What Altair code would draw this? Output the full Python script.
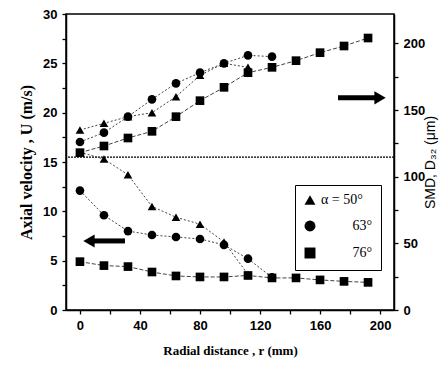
import altair as alt
import pandas as pd

# ---- data ----
r_tri_smd = [0, 16, 32, 48, 64, 80, 96, 112]
smd_tri = [135, 140, 145, 148, 160, 176, 185, 182]
r_cir_smd = [0, 16, 32, 48, 64, 80, 96, 112, 128]
smd_cir = [126, 133, 145, 158, 170, 178, 185, 191, 190]
r_sq_smd = [0, 16, 32, 48, 64, 80, 96, 112, 128, 144, 160, 176, 192]
smd_sq = [118, 123, 129, 134, 145, 157, 167, 178, 182, 187, 193, 198, 204]

r_tri_u = [0, 16, 32, 48, 64, 80, 96, 112]
u_tri = [16.0, 15.3, 13.7, 10.5, 9.4, 8.7, 6.9, 3.6]
r_cir_u = [0, 16, 32, 48, 64, 80, 96, 112, 128]
u_cir = [12.1, 9.6, 8.0, 7.6, 7.4, 7.2, 6.6, 5.2, 3.3]
r_sq_u = [0, 16, 32, 48, 64, 80, 96, 112, 128, 144, 160, 176, 192]
u_sq = [4.9, 4.5, 4.4, 3.85, 3.45, 3.35, 3.35, 3.5, 3.25, 3.25, 3.05, 2.9, 2.8]

series_names = ["50", "63", "76"]
shapes = ["triangle-up", "circle", "square"]
dashes = {"50": [2, 2], "63": [2, 2], "76": [4, 2]}

sep_u = [15.5]
arrow_left = {"x": [6], "x1": [9], "x2": [30], "u": [7.0]}
arrow_right = {"x": [200], "x1": [172], "x2": [197], "u": [21.5]}

def frame(rs, vs, name, col):
    return pd.DataFrame({"r": rs, col: vs, "series": name})

smd_parts = {"50": frame(r_tri_smd, smd_tri, "50", "smd"),
             "63": frame(r_cir_smd, smd_cir, "63", "smd"),
             "76": frame(r_sq_smd, smd_sq, "76", "smd")}
u_parts = {"50": frame(r_tri_u, u_tri, "50", "u"),
           "63": frame(r_cir_u, u_cir, "63", "u"),
           "76": frame(r_sq_u, u_sq, "76", "u")}
smd_df = pd.concat(smd_parts.values())
u_df = pd.concat(u_parts.values())

xdom = [-9.3, 209.3]
xscale = alt.Scale(domain=xdom, nice=False, zero=False)
x_axis = alt.Axis(title="Radial distance , r (mm)", grid=False,
                  values=list(range(0, 201, 20)),
                  labelExpr="datum.value % 40 == 0 ? datum.label : ''")
x_enc = alt.X("r:Q", scale=xscale, axis=x_axis)

shape_scale = alt.Scale(domain=series_names, range=shapes)

legend = alt.Legend(title=None, orient="none", legendX=229, legendY=171,
                    strokeColor="black", fillColor="white", padding=8,
                    symbolSize=120, symbolFillColor="black", symbolStrokeColor="black",
                    labelFont="Liberation Serif", labelFontSize=14, rowPadding=9,
                    labelExpr="datum.label == '50' ? 'α = 50°' : datum.label == '63' ? '\u200b\u2003\u2003 63°' : '\u200b\u2003\u2003 76°'")

uy = alt.Scale(domain=[0, 30], nice=False)
u_axis = alt.Axis(title="Axial  velocity ,  U  (m/s)", values=[x * 2.5 for x in range(13)],
                  labelExpr="datum.value % 5 == 0 ? datum.label : ''", grid=False)
u_y = alt.Y("u:Q", scale=uy, axis=u_axis)

u_lines = [alt.Chart(u_parts[s]).mark_line(color="#444", strokeWidth=1, strokeDash=dashes[s]).encode(
    x=x_enc, y=u_y) for s in series_names]
u_pts = alt.Chart(u_df).mark_point(filled=True, color="black", size=75, opacity=1).encode(
    x=x_enc, y=u_y,
    shape=alt.Shape("series:N", scale=shape_scale, legend=legend))

sep = alt.Chart(pd.DataFrame({"u": sep_u})).mark_rule(
    color="black", strokeWidth=1.3, strokeDash=[2, 1]).encode(y=u_y)

al = pd.DataFrame(arrow_left)
ar = pd.DataFrame(arrow_right)
shaft_l = alt.Chart(al).mark_rule(color="black", strokeWidth=5).encode(
    x=alt.X("x1:Q", scale=xscale, axis=x_axis), x2="x2:Q", y=u_y)
head_l = alt.Chart(al).mark_point(shape="triangle-left", filled=True, color="black", size=170, opacity=1).encode(
    x=alt.X("x:Q", scale=xscale, axis=x_axis), y=u_y)
shaft_r = alt.Chart(ar).mark_rule(color="black", strokeWidth=5).encode(
    x=alt.X("x1:Q", scale=xscale, axis=x_axis), x2="x2:Q", y=u_y)
head_r = alt.Chart(ar).mark_point(shape="triangle-right", filled=True, color="black", size=170, opacity=1).encode(
    x=alt.X("x:Q", scale=xscale, axis=x_axis), y=u_y)

u_layer = alt.layer(sep, *u_lines, u_pts, shaft_l, head_l, shaft_r, head_r)

sy = alt.Scale(domain=[0, 222], nice=False)
s_axis = alt.Axis(title="SMD, D₃₂ (μm)", orient="right", values=[x * 25 for x in range(9)],
                  labelExpr="datum.value % 50 == 0 ? datum.label : ''", grid=False,
                  titleAngle=270, titleFont="Liberation Sans", titleFontWeight="normal",
                  titleFontSize=14, titlePadding=13, titleBaseline="bottom", titleAlign="center")
s_y = alt.Y("smd:Q", scale=sy, axis=s_axis)
s_lines = [alt.Chart(smd_parts[s]).mark_line(color="#444", strokeWidth=1, strokeDash=dashes[s]).encode(
    x=x_enc, y=s_y) for s in series_names]
s_pts = alt.Chart(smd_df).mark_point(filled=True, color="black", size=75, opacity=1).encode(
    x=x_enc, y=s_y,
    shape=alt.Shape("series:N", scale=shape_scale, legend=legend))
s_layer = alt.layer(*s_lines, s_pts)

chart = alt.layer(u_layer, s_layer).resolve_scale(y="independent").properties(
    width=328, height=296,
    autosize=alt.AutoSizeParams(type="none"),
    padding={"left": 66, "top": 14, "right": 46, "bottom": 58},
    background="white",
).configure_view(stroke="black", strokeWidth=1.5).configure_axis(
    grid=False,
    domainColor="black", domainWidth=1.5, tickColor="black", tickWidth=1.3, tickSize=4,
    labelFont="Liberation Sans", labelFontWeight="bold", labelFontSize=13, labelColor="black",
    titleFont="Liberation Serif", titleFontWeight="bold", titleFontSize=16, titleColor="black",
    labelPadding=5,
).configure_axisX(titlePadding=12, titleFontSize=13).configure_axisLeft(titlePadding=8)

chart.save("out.html", embed_options={"renderer": "svg", "actions": False})
